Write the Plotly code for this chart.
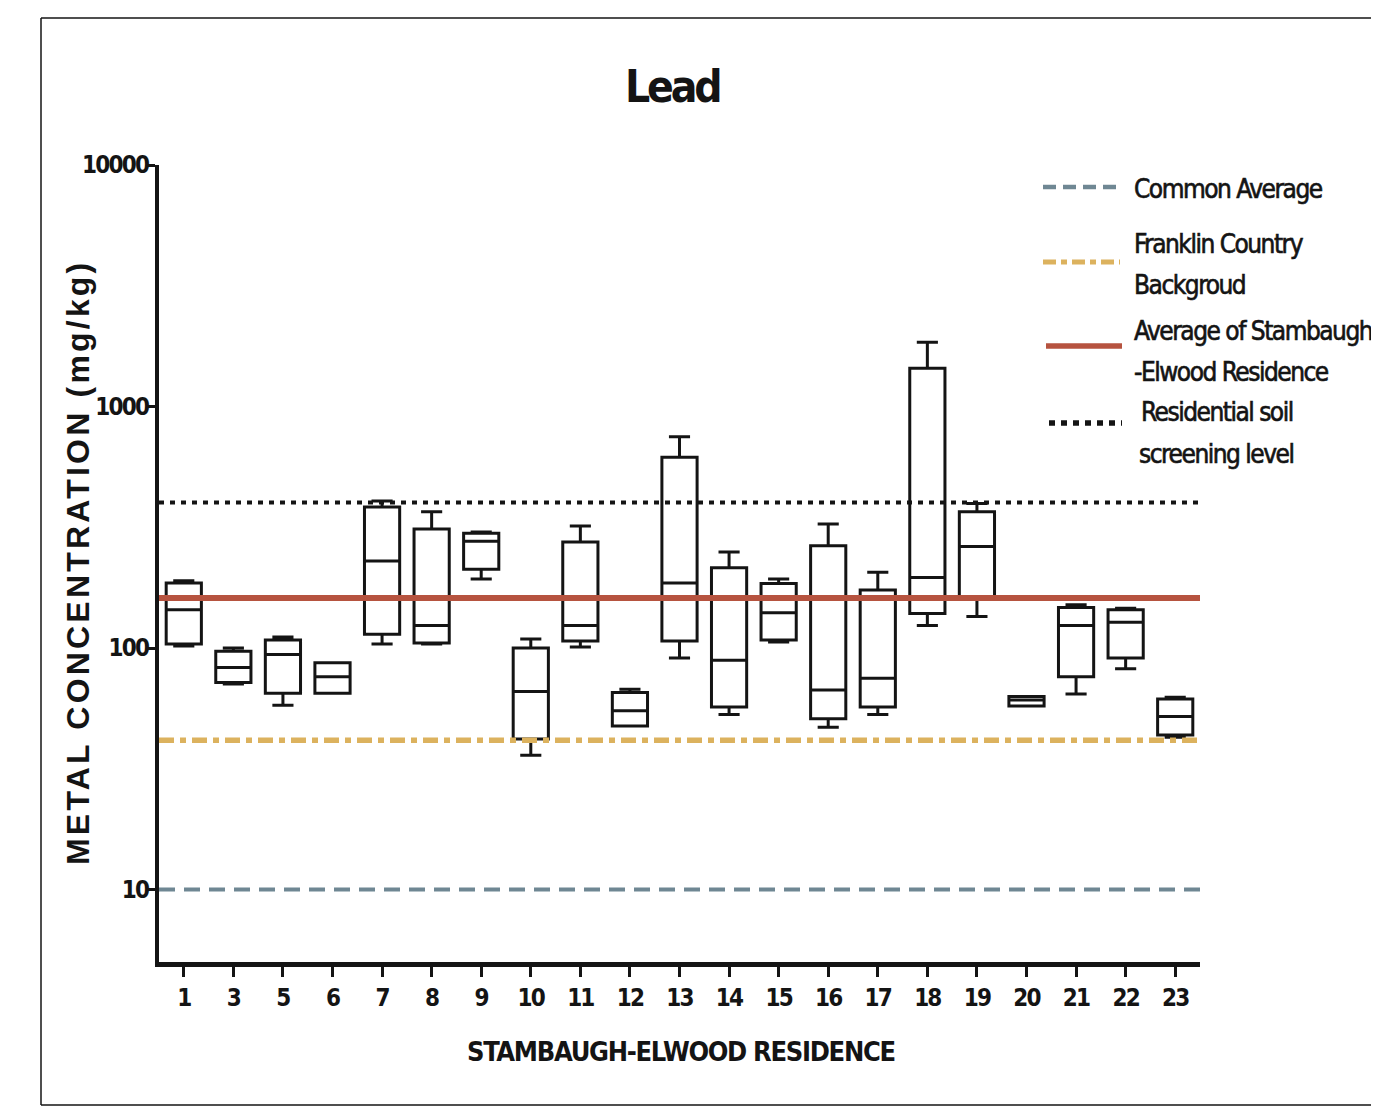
import plotly.graph_objects as go

# ---------------- data ----------------
residences = ["1", "3", "5", "6", "7", "8", "9", "10", "11", "12", "13",
              "14", "15", "16", "17", "18", "19", "20", "21", "22", "23"]
lower_whisker = [102, 71, 58, 65, 104, 104, 193, 36, 101, 47.5, 91,
                 53, 106, 47, 53, 124, 135, 57.5, 64.5, 82, 42.7]
q1_values = [104, 72, 65, 65, 114, 105, 212, 42, 107, 47.5, 107,
             57, 108, 51, 57, 139, 163, 57.5, 76, 91, 43.6]
median_values = [144, 83, 94, 76, 229, 124, 277, 66, 124, 55, 186,
                 89, 140, 67, 75, 196, 263, 61, 124, 128, 52]
q3_values = [186, 97, 108, 87, 384, 311, 299, 100, 275, 65.5, 616,
             215, 185, 265, 174, 1440, 367, 63, 147, 144, 61.5]
upper_whisker = [190, 100, 111, 87, 406, 367, 302, 109, 320, 67.5, 750,
                 250, 193, 326, 206, 1845, 397, 63, 151, 146, 62.5]

ref_names = ["Common Average", "Franklin Country Backgroud",
             "Average of Stambaugh -Elwood Residence", "Residential soil screening level"]
ref_values = [10, 41.5, 161, 400]

y_tick_vals = [10, 100, 1000, 10000]
y_tick_text = ["10", "100", "1000", "10000"]

# ---------------- styling ----------------
OFF = 8                                   # default page-body margin
W, H = 1379 - OFF, 1106 - OFF             # figure size
L, R, T, B = 159, 1200, 165, 962          # plot area, page pixels
NARROW = "Liberation Sans Narrow, Arial Narrow, DejaVu Sans Condensed, sans-serif"
WIDE = "Liberation Sans, Arial, sans-serif"
INK = "#141414"

ref_styles = [
    dict(color="#6f8793", width=4, dash="16px,9px"),
    dict(color="#dcb25e", width=5.5, dash="15px,6px,6px,6px"),
    dict(color="#b6533f", width=6, dash="solid"),
    dict(color="#141414", width=4, dash="5px,6px"),
]


def px(x):
    return (x - L) / (R - L)


def py(y):
    return (B - y) / (B - T)


def tight(txt, ls, extra=""):
    return f'<span style="letter-spacing:{ls}px;{extra}">{txt}</span>'


xpos = list(range(len(residences)))

fig = go.Figure()

fig.add_trace(go.Box(
    x=xpos, q1=q1_values, median=median_values, q3=q3_values,
    lowerfence=lower_whisker, upperfence=upper_whisker,
    boxpoints=False, width=0.71, whiskerwidth=0.6,
    fillcolor="rgba(0,0,0,0)", line=dict(color=INK, width=3),
    showlegend=False, hoverinfo="skip",
))

for name, val, st in zip(ref_names, ref_values, ref_styles):
    fig.add_trace(go.Scatter(
        x=[-0.5, len(residences) - 0.5], y=[val, val], mode="lines",
        line=st, name=name, showlegend=False, hoverinfo="skip",
    ))

shapes = []
annotations = []

# outer frame (left, top, bottom)
shapes += [
    dict(type="line", xref="paper", yref="paper", x0=px(41), x1=px(41), y0=py(18), y1=py(1105),
         line=dict(color=INK, width=1.5)),
    dict(type="line", xref="paper", yref="paper", x0=px(41), x1=px(1379), y0=py(18), y1=py(18),
         line=dict(color=INK, width=1.5)),
    dict(type="line", xref="paper", yref="paper", x0=px(41), x1=px(1379), y0=py(1105), y1=py(1105),
         line=dict(color=INK, width=1.5)),
]

# manual legend
legend_rows = [
    (187, 1043, 1118, [("Common Average", 1132, 189)]),
    (262, 1043, 1120, [("Franklin Country", 1132, 244), ("Backgroud", 1132, 285)]),
    (346, 1046, 1122, [("Average of Stambaugh", 1132, 331), ("-Elwood Residence", 1132, 372)]),
    (423, 1049, 1122, [("Residential soil", 1139, 412), ("screening level", 1137, 454)]),
]
legend_styles = [
    dict(color="#6f8793", width=4.5, dash="13px,7px"),
    dict(color="#dcb25e", width=5, dash="13px,5px,6px,5px"),
    dict(color="#b6533f", width=5.5, dash="solid"),
    dict(color="#141414", width=5.5, dash="6px,6px"),
]
for (ly, x0, x1, texts), st in zip(legend_rows, legend_styles):
    shapes.append(dict(type="line", xref="paper", yref="paper",
                       x0=px(x0), x1=px(x1), y0=py(ly), y1=py(ly), line=st))
    for txt, tx, ty in texts:
        annotations.append(dict(text=tight(txt, -1.5, "stroke:#141414;stroke-width:0.6px"),
                                xref="paper", yref="paper", x=px(tx), y=py(ty),
                                xanchor="left", yanchor="middle", showarrow=False,
                                font=dict(family=NARROW, size=26, color=INK)))

# title and axis titles
annotations.append(dict(text=tight("<b>Lead</b>", -3.2), xref="paper", yref="paper", x=px(672), y=py(87),
                        xanchor="center", yanchor="middle", showarrow=False,
                        font=dict(family=NARROW, size=44, color=INK)))
annotations.append(dict(text=tight("<b>STAMBAUGH-ELWOOD RESIDENCE</b>", -1.3), xref="paper", yref="paper",
                        x=px(681), y=py(1051), xanchor="center", yanchor="middle", showarrow=False,
                        font=dict(family=NARROW, size=27, color=INK)))
annotations.append(dict(text=tight("<b>METAL CONCENTRATION (mg/kg)</b>", 3.2), xref="paper", yref="paper",
                        x=px(78), y=py(563), xanchor="center", yanchor="middle", showarrow=False,
                        textangle=-90, font=dict(family=WIDE, size=32, color=INK)))

fig.update_layout(
    width=W, height=H,
    margin=dict(l=L - OFF, r=W - (R - OFF), t=T - OFF, b=H - (B - OFF), autoexpand=False),
    paper_bgcolor="white", plot_bgcolor="white",
    shapes=shapes, annotations=annotations,
    xaxis=dict(range=[-0.5, len(residences) - 0.5], tickvals=xpos,
               ticktext=[tight(t, -1.8) for t in residences],
               showline=True, linewidth=5, linecolor=INK, ticks="outside", ticklen=10,
               tickwidth=3, tickcolor=INK, showgrid=False, zeroline=False,
               tickfont=dict(family=NARROW, size=24, color=INK, weight="bold")),
    yaxis=dict(type="log", range=[0.7, 4], tickvals=y_tick_vals,
               ticktext=[tight(t, -1.8) for t in y_tick_text],
               showline=True, linewidth=4, linecolor=INK, ticks="outside", ticklen=9,
               tickwidth=3, tickcolor=INK, showgrid=False, zeroline=False,
               ticklabelstandoff=-7,
               tickfont=dict(family=NARROW, size=24, color=INK, weight="bold")),
)

fig.write_html("out.html")
